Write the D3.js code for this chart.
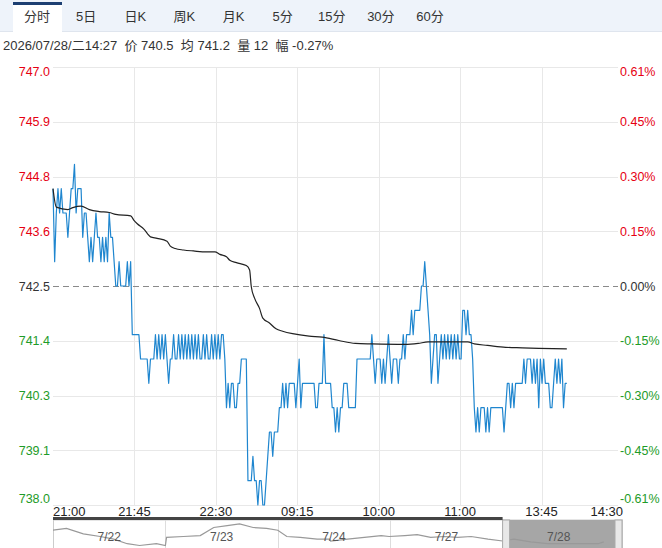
<!DOCTYPE html>
<html>
<head>
<meta charset="utf-8">
<script src="https://cdn.jsdelivr.net/npm/d3@7"></script>
<style>
  html, body { margin: 0; padding: 0; background: #fff; }
  svg { display: block; font-family: "Liberation Sans", Arial, "Noto Sans CJK SC", sans-serif; }
</style>
</head>
<body>
<div id="chart"></div>
<script>
// tabs + header
var tabs = ["分时", "5日", "日K", "周K", "月K", "5分", "15分", "30分", "60分"];
var infoText = "2026/07/28/二14:27  价 740.5  均 741.2  量 12  幅 -0.27%";

// axis labels
var preClose = 742.5;
var priceStep = 1.125;
var timeLabels = ["21:00", "21:45", "22:30", "09:15", "10:00", "11:00", "13:45", "14:30"];
var totalMinutes = 345;

// minute prices
var prices = [
  744.5, 743.0, 744.0, 744.5, 744.0, 744.5, 744.0, 744.0, 744.0, 743.5,
  744.0, 744.5, 744.5, 745.0, 744.0, 744.5, 744.5, 744.5, 743.5, 744.0,
  744.0, 743.5, 743.0, 743.5, 743.0, 743.5, 744.0, 743.5, 743.5, 743.0,
  743.5, 743.0, 743.5, 743.0, 744.0, 743.5, 743.5, 743.0, 742.5, 742.5,
  743.0, 742.5, 742.5, 742.5, 742.5, 743.0, 742.5, 743.0, 741.5, 741.5,
  741.5, 741.5, 741.5, 741.0, 741.0, 741.0, 741.0, 741.0, 740.5, 741.0,
  741.0, 741.0, 741.5, 741.0, 741.5, 741.0, 741.5, 741.0, 741.5, 741.0,
  740.5, 741.0, 741.0, 741.5, 741.0, 741.0, 741.5, 741.0, 741.5, 741.0,
  741.5, 741.0, 741.5, 741.0, 741.5, 741.0, 741.5, 741.0, 741.5, 741.0,
  741.0, 741.5, 741.0, 741.5, 741.0, 741.0, 741.5, 741.0, 741.5, 741.0,
  741.5, 741.0, 741.5, 741.5, 741.0, 740.0, 740.5, 740.0, 740.5, 740.5,
  740.0, 740.0, 740.5, 740.5, 741.0, 741.0, 741.0, 741.0, 738.5, 738.5,
  738.5, 739.0, 738.5, 738.5, 738.0, 738.5, 738.5, 738.0, 738.0, 738.5,
  739.0, 739.5, 739.5, 739.0, 739.5, 739.5, 739.5, 740.0, 740.0, 740.5,
  740.0, 740.5, 740.0, 740.5, 740.5, 740.5, 740.5, 740.0, 740.5, 741.0,
  740.0, 740.5, 740.5, 740.5,
  740.5, 740.5, 740.5, 740.5, 740.5, 740.0, 740.0, 740.5, 740.5, 740.5,
  741.5, 740.5, 740.5, 740.5, 740.5, 740.0, 740.0, 739.5, 740.0, 739.5,
  740.0, 740.0, 740.5, 740.5, 740.5, 740.0, 740.0, 740.0, 740.0, 740.0,
  741.0, 741.0, 741.0, 741.0, 741.0, 741.0, 741.0, 741.0, 741.0, 741.5,
  741.0, 740.5, 741.0, 741.0, 741.0, 740.5, 741.0, 740.5, 741.0, 741.5,
  741.0, 740.5, 741.0, 741.0, 741.0, 740.5, 741.0, 741.0, 741.5, 741.0,
  741.5, 741.5, 741.5, 742.0, 741.5, 742.0, 742.0, 742.0, 742.0, 742.5,
  742.5, 743.0, 742.5, 742.0, 741.5, 740.5, 741.0, 741.5, 741.5, 740.5,
  741.0, 741.5, 741.0, 741.5, 741.0, 741.5, 741.0, 741.5, 741.0, 741.5,
  741.0, 741.5, 741.0, 741.0, 742.0, 742.0, 741.5, 742.0, 741.5, 741.5,
  741.0, 740.0, 739.5, 740.0, 739.5, 740.0, 740.0, 740.0, 739.5, 740.0,
  739.5, 740.0, 740.0, 740.0, 740.0, 740.0, 740.0, 740.0, 740.0, 739.5,
  740.0, 740.5, 740.5, 740.0, 740.5, 740.0, 740.5, 740.5, 740.5, 740.5,
  740.5, 741.0, 740.5, 741.0, 741.0, 741.0, 740.5, 741.0, 740.5, 741.0,
  740.0, 741.0, 740.5, 741.0, 740.5, 740.5, 740.5, 740.0, 740.0, 740.5,
  741.0, 740.5, 741.0, 740.5, 741.0, 740.0, 740.5, 740.5
];

// average price line (minute index, value)
var avgIdx = [0, 2, 9, 12, 17, 22, 28, 34, 38, 47, 49, 51, 55, 59, 63, 69, 71, 74, 79, 85, 93, 98, 101, 105, 107, 111, 117, 119, 120, 122, 125, 127, 131, 135, 139, 145, 155, 163, 173, 183, 193, 213, 221, 227, 243, 251, 255, 263, 274, 284, 294, 311];
var avgVal = [744.5, 744.12, 744.07, 744.11, 744.14, 744.07, 744.03, 744.01, 743.97, 743.94, 743.85, 743.78, 743.67, 743.51, 743.48, 743.42, 743.32, 743.27, 743.24, 743.22, 743.2, 743.2, 743.15, 743.1, 743.03, 742.98, 742.92, 742.83, 742.49, 742.25, 742.04, 741.84, 741.74, 741.62, 741.57, 741.52, 741.47, 741.45, 741.38, 741.32, 741.31, 741.3, 741.32, 741.35, 741.35, 741.35, 741.31, 741.28, 741.24, 741.23, 741.22, 741.21];

// navigator: five days
var navDays = ["7/22", "7/23", "7/24", "7/27", "7/28"];
var navPos = [0, 0.12, 0.27, 0.42, 0.54, 0.66, 0.77, 0.92, 1.0, 1.01, 1.16, 1.31, 1.43, 1.55, 1.66, 1.78, 1.9, 2.0, 2.08, 2.2, 2.35, 2.46, 2.47, 2.62, 2.77, 2.92, 2.99, 3.13, 3.24, 3.36, 3.48, 3.6, 3.72, 3.87, 4.0, 4.1, 4.25, 4.4, 4.55, 4.7, 4.85, 4.9];
var navVal = [747.2, 748.4, 744.8, 743.0, 741.2, 738.2, 737.0, 738.2, 737.0, 742.4, 743.0, 743.6, 749.0, 750.2, 751.4, 749.0, 748.4, 747.2, 743.0, 742.4, 741.2, 741.2, 740.0, 741.2, 742.4, 743.6, 743.0, 743.6, 744.2, 742.4, 743.0, 742.4, 743.0, 741.2, 740.0, 741.2, 739.4, 738.2, 738.2, 738.2, 738.2, 739.4];

var W = 662, H = 548;
var plotL = 53, plotR = 618, axisR = 623, plotT = 67, plotB = 505;

var svg = d3.select("#chart").append("svg").attr("width", W).attr("height", H);

// tab bar
svg.append("rect").attr("x", 0).attr("y", 0).attr("width", W).attr("height", 32).attr("fill", "#eef3fa");
svg.append("line").attr("x1", 0).attr("x2", W).attr("y1", 31.5).attr("y2", 31.5).attr("stroke", "#dfe5ee");
var tabX = d3.scalePoint().domain(tabs).range([37, 430]);
svg.append("rect").attr("x", 13).attr("y", 3).attr("width", 49).attr("height", 29).attr("fill", "#fff");
svg.append("rect").attr("x", 13).attr("y", 2).attr("width", 49).attr("height", 3).attr("fill", "#1d3f72");
svg.selectAll("text.tab").data(tabs).join("text")
  .attr("class", "tab")
  .attr("x", function (d) { return tabX(d); })
  .attr("y", 21)
  .attr("text-anchor", "middle")
  .attr("font-size", 13)
  .attr("fill", "#333")
  .text(function (d) { return d; });

svg.append("text").attr("x", 3).attr("y", 50).attr("font-size", 13).attr("fill", "#333")
  .attr("xml:space", "preserve").style("white-space", "pre").text(infoText);

// scales
var y = d3.scaleLinear().domain([preClose - 4 * priceStep, preClose + 4 * priceStep]).range([plotB, plotT]);
var x = d3.scaleLinear().domain([0, totalMinutes]).range([plotL, axisR]);
var xLab = d3.scalePoint().domain(timeLabels).range([plotL, axisR]);

var yTicks = d3.range(4, -5, -1).map(function (k) { return preClose + k * priceStep; });
function tickColor(v) {
  if (Math.abs(v - preClose) < 1e-9) return "#333";
  return v > preClose ? "#e60012" : "#1e9b28";
}

// grid
var grid = svg.append("g");
grid.selectAll("line.h").data(yTicks.filter(function (v) { return v !== preClose; })).join("line")
  .attr("x1", plotL).attr("x2", plotR)
  .attr("y1", function (d) { return Math.round(y(d)) + 0.5; })
  .attr("y2", function (d) { return Math.round(y(d)) + 0.5; })
  .attr("stroke", "#e8e8e8");
grid.selectAll("line.v").data(timeLabels.slice(1, -1)).join("line")
  .attr("x1", function (d) { return Math.round(xLab(d)) + 0.5; })
  .attr("x2", function (d) { return Math.round(xLab(d)) + 0.5; })
  .attr("y1", plotT).attr("y2", plotB)
  .attr("stroke", "#e8e8e8");
svg.append("line")
  .attr("x1", plotL).attr("x2", plotR)
  .attr("y1", Math.round(y(preClose)) + 0.5).attr("y2", Math.round(y(preClose)) + 0.5)
  .attr("stroke", "#8a8a8a").attr("stroke-dasharray", "6,4");

// y labels
var nT = yTicks.length;
function labelY(d, i) {
  if (i === 0) return y(d) + 9;
  if (i === nT - 1) return y(d) - 2;
  return y(d) + 4.5;
}
svg.selectAll("text.yl").data(yTicks).join("text")
  .attr("class", "yl")
  .attr("x", 50).attr("y", labelY)
  .attr("text-anchor", "end").attr("font-size", 12.5)
  .attr("fill", tickColor)
  .text(function (d) { return d.toFixed(1); });
svg.selectAll("text.yr").data(yTicks).join("text")
  .attr("class", "yr")
  .attr("x", 620).attr("y", labelY)
  .attr("font-size", 12.5)
  .attr("fill", tickColor)
  .text(function (d) { return ((d - preClose) / preClose * 100).toFixed(2) + "%"; });

// x labels
svg.selectAll("text.xl").data(timeLabels).join("text")
  .attr("class", "xl")
  .attr("x", function (d) { return xLab(d); })
  .attr("y", 516)
  .attr("text-anchor", function (d, i) { return i === 0 ? "start" : (i === timeLabels.length - 1 ? "end" : "middle"); })
  .attr("font-size", 13).attr("fill", "#222")
  .text(function (d) { return d; });

// lines
var priceLine = d3.line().x(function (d, i) { return x(i); }).y(function (d) { return y(d); });
svg.append("path").datum(prices).attr("d", priceLine)
  .attr("fill", "none").attr("stroke", "#1f86cf").attr("stroke-width", 1.2).attr("stroke-linejoin", "round");

var avgLine = d3.line().x(function (d) { return x(d); }).y(function (d, i) { return y(avgVal[i]); }).curve(d3.curveMonotoneX);
svg.append("path").datum(avgIdx).attr("d", avgLine)
  .attr("fill", "none").attr("stroke", "#222").attr("stroke-width", 1.2);

// navigator
var navT = 520, navB = 548;
var nx = d3.scaleLinear().domain([0, 5]).range([plotL, 615]);
var ny = d3.scaleLinear().domain([736, 752]).range([navB - 1, navT + 3]);
var nav = svg.append("g");
nav.append("rect").attr("x", plotL + 0.5).attr("y", navT).attr("width", axisR - plotL - 1).attr("height", 40)
  .attr("fill", "#fff").attr("stroke", "#ccc");
nav.selectAll("line.sep").data(d3.range(1, 5)).join("line")
  .attr("x1", function (d) { return Math.round(nx(d)) + 0.5; })
  .attr("x2", function (d) { return Math.round(nx(d)) + 0.5; })
  .attr("y1", navT).attr("y2", navB)
  .attr("stroke", "#ddd");
// selected window
nav.append("rect").attr("x", nx(4)).attr("y", navT).attr("width", nx(5) - nx(4)).attr("height", 30)
  .attr("fill", "#a6a6a6");
nav.append("path").datum(navPos)
  .attr("d", d3.line().x(function (d) { return nx(d); }).y(function (d, i) { return ny(navVal[i]); }))
  .attr("fill", "none").attr("stroke", "#999").attr("stroke-width", 1.2);
nav.selectAll("text.day").data(navDays).join("text")
  .attr("class", "day")
  .attr("x", function (d, i) { return nx(i + 0.5); })
  .attr("y", 541)
  .attr("text-anchor", "middle").attr("font-size", 12).attr("fill", "#555")
  .text(function (d) { return d; });
nav.selectAll("rect.handle").data([4, 5]).join("rect")
  .attr("class", "handle")
  .attr("x", function (d) { return nx(d); })
  .attr("y", navT).attr("width", 7).attr("height", 30)
  .attr("fill", "#e8e8e8").attr("stroke", "#aaa");
svg.append("rect").attr("x", plotL).attr("y", 517).attr("width", nx(4) - plotL).attr("height", 3).attr("fill", "#444");
</script>
</body>
</html>
